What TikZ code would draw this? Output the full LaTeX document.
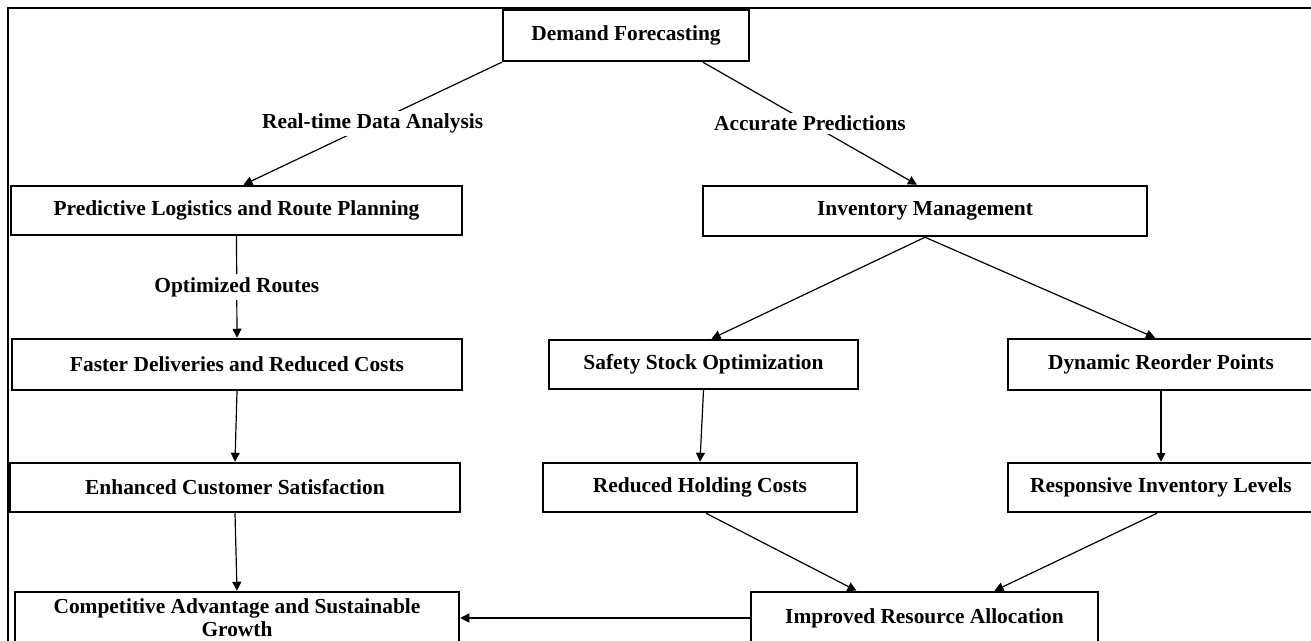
\documentclass[tikz,border=0pt]{standalone}
\usepackage{fontspec}
\setmainfont{Liberation Serif}
\usetikzlibrary{arrows.meta,positioning}

\begin{document}
\begin{tikzpicture}[x=0.5pt, y=-0.5pt, ->, >={Triangle[length=4.5pt,width=4.5pt]}, line width=0.6pt,
	box node/.style={draw, line width=1.25pt, inner sep=0pt, align=center, font=\fontsize{10.7}{11.6}\selectfont\bfseries},
	lbl node/.style={fill=white, inner sep=1.5pt, font=\fontsize{10.7}{12}\selectfont\bfseries}]
	\useasboundingbox (0,0) rectangle (1311,641);
	\draw[-, line width=1pt] (8,641) -- (8,8) -- (1311,8);

	\node[box node, minimum width=123pt, minimum height=25.5pt] (DF) at (626,35.5) {Demand Forecasting};
	\node[box node, minimum width=225.5pt, minimum height=24.5pt] (PL) at (236.5,210.5) {Predictive Logistics and Route Planning};
	\node[box node, minimum width=225pt, minimum height=25.5pt] (FD) at (237,364.5) {Faster Deliveries and Reduced Costs};
	\node[box node, minimum width=225pt, minimum height=24.5pt] (ECS) at (235,487.5) {Enhanced Customer Satisfaction};
	\node[box node, minimum width=222pt, minimum height=26pt] (CA) at (237,618) {Competitive Advantage and Sustainable\\Growth};
	\node[box node, minimum width=222pt, minimum height=25pt] (IM) at (925,211) {Inventory Management};
	\node[box node, minimum width=154.5pt, minimum height=24.5pt] (SS) at (703.5,364.5) {Safety Stock Optimization};
	\node[box node, minimum width=153pt, minimum height=25.5pt] (DRP) at (1161,364.5) {Dynamic Reorder Points};
	\node[box node, minimum width=157pt, minimum height=24.5pt] (RHC) at (700,487.5) {Reduced Holding Costs};
	\node[box node, minimum width=153pt, minimum height=24.5pt] (RIL) at (1161,487.5) {Responsive Inventory Levels};
	\node[box node, minimum width=173.5pt, minimum height=26pt] (IRA) at (924.5,618) {Improved Resource Allocation};

	\path
		(DF.south west) edge node[lbl node] {Real-time Data Analysis} ([xshift=3.5pt]PL.north)
		([xshift=38.5pt]DF.south) edge node[lbl node] {Accurate Predictions} ([xshift=-4pt]IM.north)
		(PL.south) edge node[lbl node] {Optimized Routes} (FD.north)
		(FD.south) edge (ECS.north)
		(ECS.south) edge (CA.north)
		(IM.south) edge ([xshift=4pt]SS.north)
		(IM.south) edge ([xshift=-3pt]DRP.north)
		(SS.south) edge (RHC.north)
		(DRP.south) edge (RIL.north)
		([xshift=3pt]RHC.south) edge ([xshift=-34pt]IRA.north)
		([xshift=-2pt]RIL.south) edge ([xshift=35pt]IRA.north)
		(IRA.west) edge (IRA.west -| CA.east);
\end{tikzpicture}
\end{document}
